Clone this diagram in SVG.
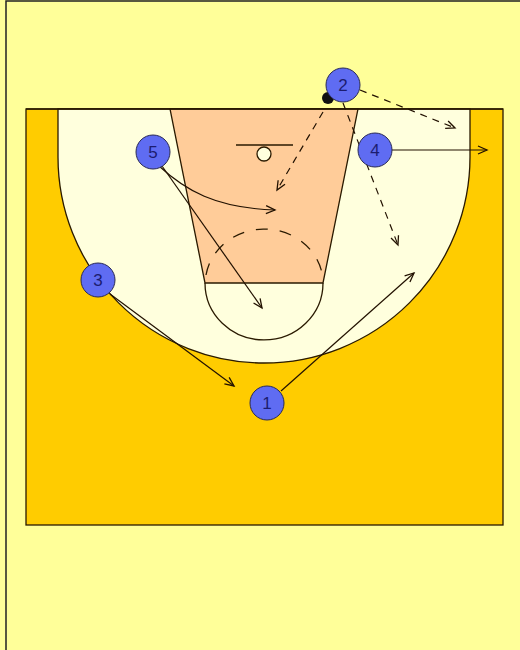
<svg xmlns="http://www.w3.org/2000/svg" width="520" height="650" viewBox="0 0 520 650">
<defs>
<style>
.court{stroke:#2a1a00;stroke-width:1.3}
.mv{fill:none;stroke:#221100;stroke-width:1.2}
.dash{stroke-dasharray:7,6}
.pl{fill:#5f6cf2;stroke:#2a2a55;stroke-width:1}
.num{font-family:"Liberation Sans",Arial,sans-serif;font-size:17px;fill:#1c1c70;text-anchor:middle}
</style>
<marker id="ah" markerWidth="12" markerHeight="12" refX="10" refY="5" orient="auto" markerUnits="userSpaceOnUse">
<path d="M1,1 L10,5 L1,9" fill="none" stroke="#221100" stroke-width="1.3"/>
</marker>
</defs>
<rect x="0" y="0" width="520" height="650" fill="#ffff99"/>
<path d="M6,650 V1 H520" fill="none" stroke="#222" stroke-width="1.5"/>
<g id="court">
<rect x="26" y="109" width="477" height="416" fill="#ffcc00" class="court"/>
<path d="M58,109 V157 A206,206 0 0 0 470,157 V109 Z" fill="#ffffdd" class="court"/>
<path d="M170,109 L358,109 L323,283 L205,283 Z" fill="#ffcc99" class="court"/>
<path d="M205,283 A58,56 0 0 0 323,283" fill="none" class="court"/>
<path d="M206,275 A59,55 0 0 1 322,273" fill="none" class="court" stroke-dasharray="12,12"/>
<line x1="236" y1="145" x2="293" y2="145" class="court"/>
<circle cx="264" cy="154" r="7" fill="#ffffdd" class="court"/>
<line x1="26" y1="109" x2="503" y2="109" class="court"/>
</g>
<g id="connectors">
<line x1="323" y1="112" x2="277" y2="190" class="mv dash" marker-end="url(#ah)"/>
<line x1="360" y1="90" x2="455" y2="128" class="mv dash" marker-end="url(#ah)"/>
<line x1="343" y1="103" x2="398" y2="245" class="mv dash" marker-end="url(#ah)"/>
<line x1="392" y1="150" x2="487" y2="150" class="mv" marker-end="url(#ah)"/>
<path d="M159,166 C185,190 215,208 275,210" class="mv" marker-end="url(#ah)"/>
<line x1="162" y1="166" x2="262" y2="308" class="mv" marker-end="url(#ah)"/>
<line x1="110" y1="294" x2="234" y2="386" class="mv" marker-end="url(#ah)"/>
<line x1="281" y1="391" x2="414" y2="273" class="mv" marker-end="url(#ah)"/>
</g>
<g id="ball"><circle cx="328" cy="98" r="6" fill="#111"/></g>
<g id="p2"><circle cx="343" cy="85" r="17" class="pl"/><text x="343" y="91" class="num">2</text></g>
<g id="p4"><circle cx="375" cy="150" r="17" class="pl"/><text x="375" y="156" class="num">4</text></g>
<g id="p5"><circle cx="153" cy="152" r="17" class="pl"/><text x="153" y="158" class="num">5</text></g>
<g id="p3"><circle cx="98" cy="280" r="17" class="pl"/><text x="98" y="286" class="num">3</text></g>
<g id="p1"><circle cx="267" cy="403" r="17" class="pl"/><text x="267" y="409" class="num">1</text></g>
</svg>
